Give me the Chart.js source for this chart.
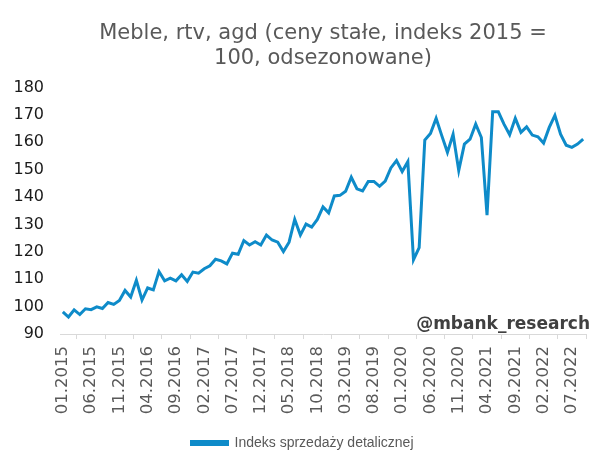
<!DOCTYPE html>
<html>
<head>
<meta charset="utf-8">
<script src="https://cdn.jsdelivr.net/npm/chart.js@4.4.0/dist/chart.umd.min.js"></script>
<style>
    html, body { margin: 0; padding: 0; background: #fff; }
    #wrap { width: 605px; height: 468px; }
</style>
</head>
<body>
<div id="wrap"><canvas id="salesChart"></canvas></div>
<script>
    // monthly series, 01.2015 - 09.2022
    var startYear = 2015;
    var monthCount = 93;
    var tickEvery = 5;

    var indexValues = [
        98.1, 96.2, 98.8, 97.1, 99.2, 98.9, 99.9, 99.3, 101.5, 100.8, 102.2, 105.9,
        103.5, 109.6, 102.4, 106.8, 106.1, 112.8, 109.4, 110.4, 109.4, 111.6, 109.2, 112.6,
        112.2, 113.8, 114.9, 117.3, 116.7, 115.6, 119.5, 119.1, 124.1, 122.5, 123.7, 122.5,
        126.1, 124.3, 123.5, 120.1, 123.5, 131.8, 126.1, 130.1, 129.0, 131.8, 136.4, 134.2,
        140.4, 140.6, 142.1, 147.2, 143.0, 142.2, 145.7, 145.7, 143.9, 145.8, 150.6, 153.3,
        149.3, 152.9, 117.1, 121.5, 160.8, 163.2, 168.7, 162.4, 156.3, 162.9, 149.7, 159.3,
        161.1, 166.6, 161.7, 133.4, 171.1, 171.1, 166.6, 162.7, 168.7, 163.6, 165.6, 162.6,
        162.0, 159.7, 165.4, 169.8, 162.9, 158.9, 158.1, 159.3, 161.1
    ];

    var monthLabels = [];
    for (var i = 0; i < monthCount; i++) {
        var m = i % 12 + 1;
        var y = startYear + Math.floor(i / 12);
        monthLabels.push((m < 10 ? "0" + m : "" + m) + "." + y);
    }

    var titleLines = ["Meble, rtv, agd (ceny stałe, indeks 2015 =", "100, odsezonowane)"];
    var seriesName = "Indeks sprzedaży detalicznej";
    var watermark = "@mbank_research";

    var lineColor = "#0e8bc9";

    var watermarkPlugin = {
        id: "watermark",
        afterDatasetsDraw: function (chart) {
            var ctx = chart.ctx;
            var area = chart.chartArea;
            ctx.save();
            ctx.font = "bold 17px 'DejaVu Sans'";
            ctx.fillStyle = "#404040";
            ctx.textAlign = "right";
            ctx.textBaseline = "alphabetic";
            ctx.fillText(watermark, area.right + 4, area.bottom - 5);
            ctx.restore();
        }
    };

    var salesCanvas = document.getElementById("salesChart");

    var salesChart = new Chart(salesCanvas, {
        type: 'line',
        data: {
            labels: monthLabels,
            datasets: [{
                label: seriesName,
                data: indexValues,
                borderColor: lineColor,
                backgroundColor: lineColor,
                borderWidth: 3,
                pointRadius: 0,
                tension: 0
            }]
        },
        options: {
            responsive: true,
            maintainAspectRatio: false,
            animation: false,
            layout: {
                padding: { left: 0, right: 0, top: 0, bottom: 8 }
            },
            plugins: {
                title: {
                    display: true,
                    fullSize: false,
                    text: titleLines,
                    color: "#595959",
                    font: { family: "'DejaVu Sans'", size: 21, weight: 'normal', lineHeight: 1.2 },
                    padding: { top: 21, bottom: 16 }
                },
                legend: {
                    position: 'bottom',
                    labels: {
                        color: "#595959",
                        boxWidth: 36,
                        boxHeight: 3,
                        font: { family: "'Liberation Sans'", size: 14 },
                        padding: 10
                    }
                },
                tooltip: { enabled: false }
            },
            scales: {
                x: {
                    offset: true,
                    afterFit: function (scale) { scale.height = 92; },
                    grid: {
                        offset: true,
                        drawOnChartArea: false,
                        drawTicks: true,
                        tickLength: 5,
                        color: "#d9d9d9"
                    },
                    border: { color: "#d9d9d9" },
                    ticks: {
                        autoSkip: false,
                        maxRotation: 90,
                        minRotation: 90,
                        color: "#595959",
                        padding: 7,
                        font: { family: "'DejaVu Sans'", size: 16.5 },
                        callback: function (value, index) {
                            return index % tickEvery === 0 ? monthLabels[index] : null;
                        }
                    }
                },
                y: {
                    min: 90,
                    max: 180,
                    afterFit: function (scale) { scale.width = 60; },
                    grid: { display: false },
                    border: { display: false },
                    ticks: {
                        stepSize: 10,
                        color: "#1a1a1a",
                        padding: 8,
                        font: { family: "'DejaVu Sans'", size: 16 }
                    }
                },
                // empty right margin, keeps the legend centred on the canvas
                yRight: {
                    position: 'right',
                    afterFit: function (scale) { scale.width = 19; },
                    grid: { display: false },
                    border: { display: false },
                    ticks: { display: false }
                }
            }
        },
        plugins: [watermarkPlugin]
    });
</script>
</body>
</html>
